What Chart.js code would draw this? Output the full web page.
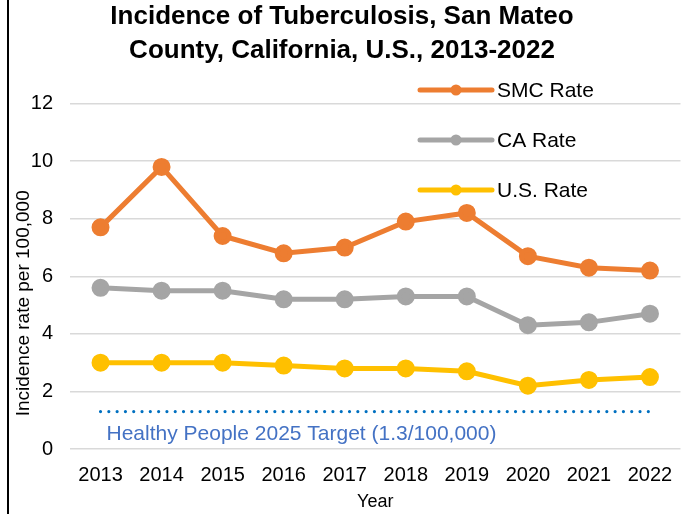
<!DOCTYPE html>
<html>
<head>
<meta charset="utf-8">
<script src="https://cdn.jsdelivr.net/npm/chart.js@4/dist/chart.umd.min.js"></script>
<style>
  html, body { margin: 0; padding: 0; background: #fff; }
  #wrap { position: relative; width: 692px; height: 514px; }
  #edge { position: absolute; left: 7px; top: 0; width: 2px; height: 514px; background: #000; }
</style>
</head>
<body>
<div id="wrap">
  <canvas id="chart" width="692" height="514"></canvas>
  <div id="edge"></div>
</div>
<script>
// Incidence of TB per 100,000
const years = ['2013', '2014', '2015', '2016', '2017', '2018', '2019', '2020', '2021', '2022'];
const smcRate = [7.7, 9.8, 7.4, 6.8, 7.0, 7.9, 8.2, 6.7, 6.3, 6.2];
const caRate = [5.6, 5.5, 5.5, 5.2, 5.2, 5.3, 5.3, 4.3, 4.4, 4.7];
const usRate = [3.0, 3.0, 3.0, 2.9, 2.8, 2.8, 2.7, 2.2, 2.4, 2.5];
const targetRate = 1.3;
const targetLabel = 'Healthy People 2025 Target (1.3/100,000)';
const yTitle = 'Incidence rate per 100,000';

const FONT = '"Liberation Sans", Arial, sans-serif';

function series(label, data, color) {
  return {
    label, data,
    borderColor: color,
    backgroundColor: color,
    pointBackgroundColor: color,
    pointBorderColor: color,
    borderWidth: 5,
    pointRadius: 6.5,
    pointHoverRadius: 6.5,
    tension: 0,
  };
}

// legend: line sample with marker, stacked on the right
const sideLegend = {
  id: 'sideLegend',
  afterDraw(chart) {
    const { ctx } = chart;
    const items = chart.data.datasets.filter(d => !d.isTarget);
    const x0 = 420, x1 = 492;
    ctx.save();
    ctx.font = '21px ' + FONT;
    ctx.textBaseline = 'middle';
    items.forEach((d, i) => {
      const y = 90 + i * 50;
      ctx.strokeStyle = d.borderColor;
      ctx.lineWidth = 5;
      ctx.lineCap = 'round';
      ctx.beginPath();
      ctx.moveTo(x0, y);
      ctx.lineTo(x1, y);
      ctx.stroke();
      ctx.fillStyle = d.borderColor;
      ctx.beginPath();
      ctx.arc((x0 + x1) / 2, y, 5.5, 0, Math.PI * 2);
      ctx.fill();
      ctx.fillStyle = '#000';
      ctx.fillText(d.label, 497, y + 1);
    });
    ctx.restore();
  }
};

// text under the target line, and the y-axis title (sits a bit below centre)
const extraText = {
  id: 'extraText',
  afterDatasetsDraw(chart) {
    const { ctx, scales } = chart;
    const x = scales.x.getPixelForValue(0) + 6;
    const y = scales.y.getPixelForValue(0.52);
    ctx.save();
    ctx.font = '21px ' + FONT;
    ctx.fillStyle = '#4472C4';
    ctx.textBaseline = 'middle';
    ctx.fillText(targetLabel, x, y);

    const ty = (scales.y.top + scales.y.bottom) / 2 + 27;
    ctx.translate(24, ty);
    ctx.rotate(-Math.PI / 2);
    ctx.font = '19px ' + FONT;
    ctx.fillStyle = '#000';
    ctx.textAlign = 'center';
    ctx.fillText(yTitle, 0, 0);
    ctx.restore();
  }
};

new Chart(document.getElementById('chart'), {
  type: 'line',
  data: {
    labels: years,
    datasets: [
      series('SMC Rate', smcRate, '#ED7D31'),
      series('CA Rate', caRate, '#A5A5A5'),
      series('U.S. Rate', usRate, '#FFC000'),
      {
        label: 'Target',
        isTarget: true,
        data: years.map(() => targetRate),
        borderColor: '#0070C0',
        borderWidth: 3.2,
        borderDash: [0, 8.3],
        borderCapStyle: 'round',
        pointRadius: 0,
        pointHoverRadius: 0,
      },
    ],
  },
  options: {
    responsive: false,
    animation: false,
    events: [],
    layout: { padding: { left: 0, right: 8, top: 0, bottom: 0 } },
    plugins: {
      legend: { display: false },
      tooltip: { enabled: false },
      title: {
        display: true,
        text: ['Incidence of Tuberculosis, San Mateo', 'County, California, U.S., 2013-2022'],
        color: '#000',
        font: { family: FONT, size: 26, weight: 'bold', lineHeight: 1.3 },
        padding: { top: 0, bottom: 36 },
      },
    },
    scales: {
      x: {
        offset: true,
        grid: { display: false },
        border: { display: false },
        ticks: { color: '#000', font: { family: FONT, size: 20 }, padding: 6, maxRotation: 0 },
        title: { display: true, text: 'Year', color: '#000', font: { family: FONT, size: 18 }, padding: { top: 1, bottom: 1 } },
        afterFit(scale) { scale.height = 65; },
      },
      y: {
        min: 0,
        max: 12,
        grid: { color: '#D9D9D9', lineWidth: 1.5, drawTicks: false },
        border: { display: false },
        ticks: { stepSize: 2, color: '#000', font: { family: FONT, size: 20 }, padding: 17 },
        afterFit(scale) { scale.width = 70; },
      },
    },
  },
  plugins: [sideLegend, extraText],
});
</script>
</body>
</html>
